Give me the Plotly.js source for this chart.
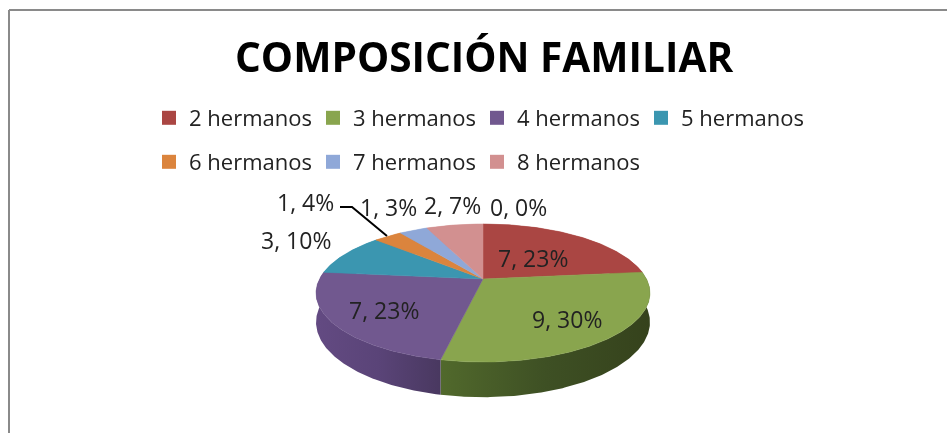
<!DOCTYPE html>
<html><head><meta charset="utf-8">
<script src="https://cdn.plot.ly/plotly-3.0.1.min.js"></script>
<style>html,body{margin:0;padding:0;background:#fff}#g{width:947px;height:433px;filter:blur(0.5px)}</style>
</head><body><div id="g"></div>
<script>
const titleText = 'COMPOSICIÓN FAMILIAR';
const categories = ['2 hermanos','3 hermanos','4 hermanos','5 hermanos','6 hermanos','7 hermanos','8 hermanos'];
const counts = [7,9,7,3,1,1,2];
const labelCounts = [7,9,7,3,1,1,2,0];
const labelPercents = [23,30,23,10,4,3,7,0];
const topColors = ['#AA4643','#89A54E','#71588F','#3B96B0','#DB843D','#8FA8D8','#D29090'];
const wallShades = {
  1:['#51692C','#3E5024','#35421C'],
  2:['#634A82','#5A4478','#493860']
};
// label anchors in pixels (layout, not data)
const labelAnchors = [[533,258],[567,319],[384,310],[296,240],[305,202],[388,207],[452,205],[518,207]];

// projection of a tilted pie, plotted on pixel-scaled axes
const cx=483, cy=279, R=163.5, B=66.2, K=0.203, D=28;
function proj(deg, lower){
  const t=deg*Math.PI/180, u=Math.sin(t), v=-Math.cos(t), s=1/(1-K*v);
  return [cx+R*u*s, cy+B*v*s+(lower?D*s:0)];
}
const total=counts.reduce((a,b)=>a+b,0);
const traces=[];
let a0=0; const spans=counts.map(c=>{const s=[a0,a0+c/total*360];a0=s[1];return s;});
function arc(s,e,lower){const n=Math.max(2,Math.ceil((e-s)*1.5)),p=[];for(let i=0;i<=n;i++)p.push(proj(s+(e-s)*i/n,lower));return p;}
// walls
spans.forEach((sp,i)=>{
  const top=arc(sp[0],sp[1],false), bot=arc(sp[0],sp[1],true).reverse(), pts=top.concat(bot);
  pts.push(pts[0]);
  const shade=wallShades[i];
  const tr={type:'scatter',mode:'lines',x:pts.map(p=>p[0]),y:pts.map(p=>p[1]),line:{width:0},fill:'toself',fillcolor:shade?shade[1]:topColors[i],hoverinfo:'skip',showlegend:false};
  if(shade) tr.fillgradient={type:'horizontal',colorscale:[[0,shade[0]],[0.5,shade[1]],[1,shade[2]]]};
  traces.push(tr);
});
// tops
spans.forEach((sp,i)=>{
  const pts=[[cx,cy]].concat(arc(sp[0],sp[1],false));pts.push([cx,cy]);
  traces.push({type:'scatter',mode:'lines',x:pts.map(p=>p[0]),y:pts.map(p=>p[1]),line:{width:0.5,color:topColors[i]},fill:'toself',fillcolor:topColors[i],hoverinfo:'skip',showlegend:false});
});
// legends: two rows
categories.forEach((c,i)=>{
  traces.push({type:'scatter',mode:'markers',x:[null],y:[null],name:c,marker:{symbol:'square',size:14,color:topColors[i]},legend:i<4?'legend':'legend2',hoverinfo:'skip',showlegend:true});
});
const legendBase={orientation:'h',xanchor:'left',yanchor:'middle',entrywidth:119,entrywidthmode:'pixels',bgcolor:'rgba(0,0,0,0)',font:{family:'Open Sans, sans-serif',size:22,color:'#222'},itemclick:false,itemdoubleclick:false,borderwidth:0,traceorder:'normal',itemsizing:'trace'};
const annotations=labelCounts.map((c,i)=>({x:labelAnchors[i][0],y:labelAnchors[i][1],xref:'x',yref:'y',text:c+', '+labelPercents[i]+'%',showarrow:false,xanchor:'center',yanchor:'middle',font:{family:'Open Sans, sans-serif',size:23,color:'#222'}}));
annotations.push({x:484,y:56,xref:'x',yref:'y',text:'<b>'+titleText+'</b>',showarrow:false,xanchor:'center',yanchor:'middle',font:{family:'Open Sans, sans-serif',size:40.6,color:'#000'}});
const layout={
  width:947,height:433,margin:{l:0,r:0,t:0,b:0},paper_bgcolor:'#fff',plot_bgcolor:'#fff',
  xaxis:{range:[0,947],visible:false,fixedrange:true},
  yaxis:{range:[433,0],visible:false,fixedrange:true},
  legend:Object.assign({x:149/947,y:1-118/433},legendBase),
  legend2:Object.assign({x:149/947,y:1-162/433},legendBase),
  annotations,
  shapes:[
    {type:'line',xref:'x',yref:'y',x0:9,y0:10,x1:947,y1:10,line:{color:'#8a8a8a',width:2}},
    {type:'line',xref:'x',yref:'y',x0:9,y0:10,x1:9,y1:433,line:{color:'#8a8a8a',width:2}},
    {type:'path',xref:'x',yref:'y',path:'M340,207 L352,207 L387,236',line:{color:'#000',width:2}}
  ]
};
Plotly.newPlot('g',traces,layout,{displayModeBar:false,staticPlot:true});
</script></body></html>
